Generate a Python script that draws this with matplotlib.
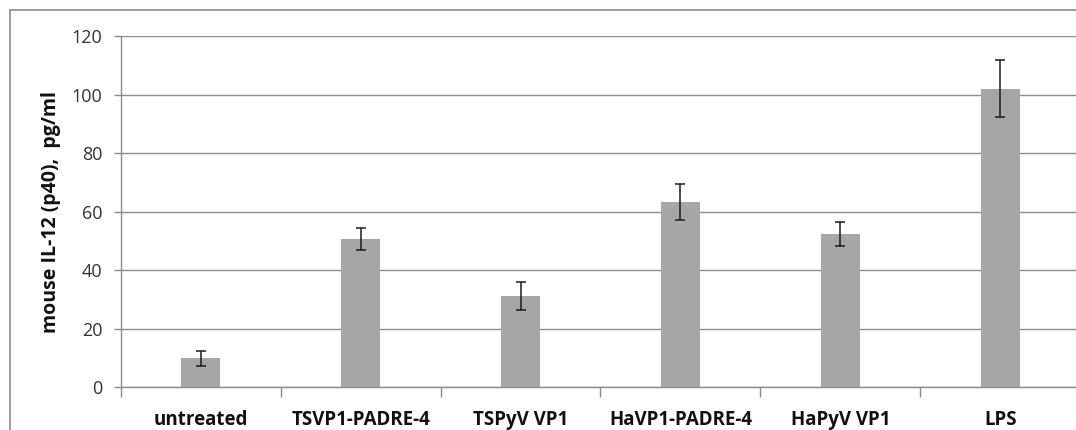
import matplotlib
matplotlib.use("Agg")
import matplotlib.pyplot as plt
from matplotlib.patches import Rectangle

categories = ["untreated", "TSVP1-PADRE-4", "TSPyV VP1", "HaVP1-PADRE-4", "HaPyV VP1", "LPS"]
values = [9.9, 50.6, 31.3, 63.2, 52.4, 102.0]
errors = [2.5, 3.7, 4.8, 6.1, 4.0, 9.7]
yticks = [0, 20, 40, 60, 80, 100, 120]
ylabel = "mouse IL-12 (p40),  pg/ml"

W, H = 1076, 430
fig = plt.figure(figsize=(W / 100, H / 100), dpi=100)
plt.rcParams['font.family'] = ['Open Sans', 'DejaVu Sans']

# outer chart frame (cropped at right and bottom)
fig.patches.append(Rectangle((10 / W, -0.1), 1.2, (H - 10.5) / H + 0.1,
                             transform=fig.transFigure, fill=False,
                             edgecolor='#8c8c8c', linewidth=1.2))

left, right = 120.7, 1080.3
top, bottom = 36.0, 387.3
ax = fig.add_axes([left / W, 1 - bottom / H, (right - left) / W, (bottom - top) / H])

x = list(range(len(categories)))
ax.bar(x, values, width=0.24, color='#a6a6a6', zorder=3)
ax.errorbar(x, values, yerr=errors, fmt='none', ecolor='#1a1a1a',
            elinewidth=1.1, capsize=3.5, capthick=1.1, zorder=4)

ax.set_xlim(-0.5, len(categories) - 0.5)
ax.set_ylim(0, 120)
ax.set_yticks(yticks)
ax.set_yticklabels([str(t) for t in yticks], fontsize=13, color='#333333')
ax.yaxis.grid(True, color='#8c8c8c', linewidth=1.0, zorder=0)
ax.set_axisbelow(True)

ax.set_xticks([i + 0.5 for i in range(-1, len(categories))], minor=False)
ax.set_xticklabels([])
ax.tick_params(axis='x', which='major', length=7, color='#8c8c8c', width=1)
ax.set_xticks(x, minor=True)
ax.set_xticklabels(categories, minor=True, fontsize=13.5, fontweight='bold', color='#111111')
ax.tick_params(axis='x', which='minor', length=0, pad=16)
ax.tick_params(axis='y', length=5, color='#8c8c8c', width=1, pad=8)

for s in ['top', 'right']:
    ax.spines[s].set_visible(False)
for s in ['left', 'bottom']:
    ax.spines[s].set_color('#8c8c8c')
    ax.spines[s].set_linewidth(1.0)

ax.set_ylabel(ylabel, fontsize=14, fontweight='bold', color='#111111', labelpad=8)

fig.savefig("out.png", dpi=100)
